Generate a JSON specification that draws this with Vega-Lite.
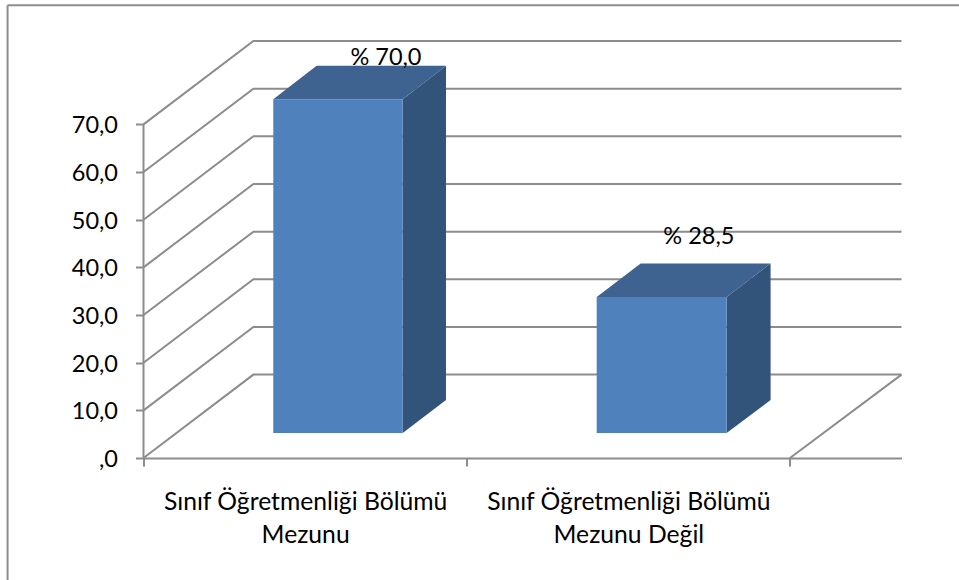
{
"$schema":"https://vega.github.io/schema/vega-lite/v6.json",
"width":758,"height":417,
"autosize":{"type":"none"},
"padding":{"left":143.5,"top":41,"right":57.5,"bottom":122},
"background":"white",
"config":{"view":{"stroke":null},"font":"Lato"},
"datasets":{
"walls":[
{"s":"f1","x":-0.4205,"y":95},{"s":"f1","x":2.523,"y":95},
{"s":"f2","x":-0.4205,"y":95},{"s":"f2","x":-0.4205,"y":-25.7},
{"s":"v0","x":0,"y":0},{"s":"v0","x":0,"y":70},
{"s":"g0","x":0,"y":0},{"s":"g0","x":0.34,"y":17.5},{"s":"g0","x":2.345,"y":17.5},{"s":"g0b","x":2,"y":0},{"s":"g0b","x":2.345,"y":17.5},
{"s":"g10","x":0,"y":10},{"s":"g10","x":0.34,"y":27.5},{"s":"g10","x":2.345,"y":27.5},
{"s":"g20","x":0,"y":20},{"s":"g20","x":0.34,"y":37.5},{"s":"g20","x":2.345,"y":37.5},
{"s":"g30","x":0,"y":30},{"s":"g30","x":0.34,"y":47.5},{"s":"g30","x":2.345,"y":47.5},
{"s":"g40","x":0,"y":40},{"s":"g40","x":0.34,"y":57.5},{"s":"g40","x":2.345,"y":57.5},
{"s":"g50","x":0,"y":50},{"s":"g50","x":0.34,"y":67.5},{"s":"g50","x":2.345,"y":67.5},
{"s":"g60","x":0,"y":60},{"s":"g60","x":0.34,"y":77.5},{"s":"g60","x":2.345,"y":77.5},
{"s":"g70","x":0,"y":70},{"s":"g70","x":0.34,"y":87.5},{"s":"g70","x":2.345,"y":87.5}
],
"side":[
{"bar":"a","x":0.8019,"top":75.3,"bottom":5.25},{"bar":"a","x":0.9358,"top":82.3,"bottom":12.17},
{"bar":"b","x":1.804,"top":33.8,"bottom":5.25},{"bar":"b","x":1.94,"top":40.8,"bottom":12.17}
],
"top":[
{"bar":"a","y":75.3,"left":0.4015,"right":0.8019},{"bar":"a","y":82.3,"left":0.5355,"right":0.9358},
{"bar":"b","y":33.8,"left":1.402,"right":1.804},{"bar":"b","y":40.8,"left":1.538,"right":1.94}
],
"front":[
{"left":0.4015,"right":0.8019,"top":75.3,"bottom":5.25},
{"left":1.402,"right":1.804,"top":33.8,"bottom":5.25}
],
"labels":[
{"x":0.75,"y":83.9,"text":"% 70,0"},
{"x":1.718,"y":46.4,"text":"% 28,5"}
]
},
"layer":[
{"data":{"name":"walls"},
"mark":{"type":"line","stroke":"#8c8c8c","strokeWidth":2,"clip":false},
"encoding":{
"x":{"field":"x","type":"quantitative","scale":{"domain":[0,2.345],"nice":false,"zero":false},"title":null,
"axis":{"values":[0,0.5,1,1.5,2],"grid":false,"domain":true,"domainColor":"#8c8c8c","domainWidth":2,"tickColor":"#8c8c8c","tickWidth":2,"tickSize":8,
"tickOpacity":{"condition":{"test":"datum.value%1!==0","value":0},"value":1},
"labelExpr":"datum.value==0.5?['Sınıf Öğretmenliği Bölümü','Mezunu']:datum.value==1.5?['Sınıf Öğretmenliği Bölümü','Mezunu Değil']:''",
"labelFontSize":24.7,"labelColor":"#000000","labelPadding":23,"labelLimit":500,"labelOverlap":false,"labelFlush":false,"labelBound":false,"labelLineHeight":33,"labelBaseline":"top","labelAngle":0}},
"y":{"field":"y","type":"quantitative","scale":{"domain":[0,87.5],"nice":false,"zero":false},"title":null,
"axis":{"values":[0,10,20,30,40,50,60,70],"grid":false,"domain":false,"tickColor":"#8c8c8c","tickWidth":2,"tickSize":8,
"labelExpr":"datum.value==0?',0':replace(format(datum.value,'.1f'),'.',',')",
"labelFontSize":23.5,"labelColor":"#000000","labelPadding":18,"labelOffset":1.5,"labelOverlap":false,"labelFlush":false,"labelBound":false}},
"detail":{"field":"s"},
"order":{"field":"x"}}},
{"data":{"name":"side"},
"mark":{"type":"area","fill":"#32537A","orient":"vertical"},
"encoding":{"x":{"field":"x","type":"quantitative"},"y":{"field":"top","type":"quantitative"},"y2":{"field":"bottom"},"detail":{"field":"bar"}}},
{"data":{"name":"top"},
"mark":{"type":"area","fill":"#3E6390","orient":"horizontal"},
"encoding":{"y":{"field":"y","type":"quantitative"},"x":{"field":"left","type":"quantitative"},"x2":{"field":"right"},"detail":{"field":"bar"}}},
{"data":{"name":"front"},
"mark":{"type":"rect","fill":"#4F81BD"},
"encoding":{"x":{"field":"left","type":"quantitative"},"x2":{"field":"right"},"y":{"field":"top","type":"quantitative"},"y2":{"field":"bottom"}}},
{"data":{"name":"labels"},
"mark":{"type":"text","fontSize":23.5,"color":"#000000","clip":false},
"encoding":{"x":{"field":"x","type":"quantitative"},"y":{"field":"y","type":"quantitative"},"text":{"field":"text"}}}
]
}
